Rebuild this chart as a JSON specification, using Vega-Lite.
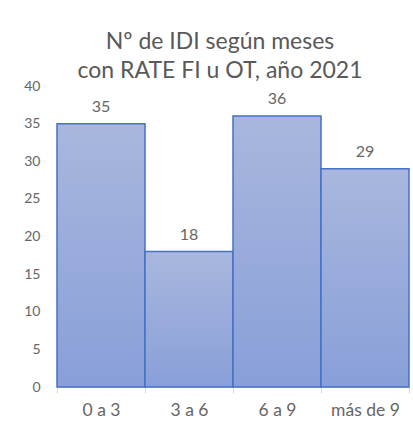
{
  "$schema": "https://vega.github.io/schema/vega-lite/v6.json",
  "width": 352,
  "height": 301,
  "autosize": {"type": "none"},
  "padding": {"left": 57, "top": 86, "right": 4, "bottom": 52},
  "background": "white",
  "title": {
    "text": ["Nº de IDI según meses", "con RATE FI u OT, año 2021"],
    "font": "Lato",
    "fontSize": 23,
    "fontWeight": "normal",
    "color": "#595959",
    "lineHeight": 29,
    "anchor": "middle",
    "dx": -13,
    "offset": -4
  },
  "data": {
    "values": [
      {"cat": "0 a 3", "n": 35},
      {"cat": "3 a 6", "n": 18},
      {"cat": "6 a 9", "n": 36},
      {"cat": "más de 9", "n": 29}
    ]
  },
  "encoding": {
    "x": {
      "field": "cat",
      "type": "nominal",
      "sort": null,
      "scale": {"paddingInner": 0, "paddingOuter": 0},
      "axis": {
        "title": null,
        "labelAngle": 0,
        "labelFont": "Lato",
        "labelFontSize": 17.5,
        "labelColor": "#666666",
        "labelPadding": 8,
        "domainColor": "#d9d9d9",
        "tickColor": "#d9d9d9",
        "tickBand": "extent",
        "tickSize": 6
      }
    },
    "y": {
      "field": "n",
      "type": "quantitative",
      "scale": {"domain": [0, 40]},
      "axis": {
        "title": null,
        "values": [0, 5, 10, 15, 20, 25, 30, 35, 40],
        "grid": false,
        "domain": false,
        "ticks": false,
        "labelFont": "Lato",
        "labelFontSize": 14,
        "labelColor": "#666666",
        "labelPadding": 17
      }
    }
  },
  "layer": [
    {
      "mark": {
        "type": "bar",
        "stroke": "#4472c4",
        "strokeWidth": 1.5,
        "color": {
          "gradient": "linear",
          "x1": 0, "y1": 0, "x2": 0, "y2": 1,
          "stops": [
            {"offset": 0, "color": "#a9b7de"},
            {"offset": 1, "color": "#889fd8"}
          ]
        }
      }
    },
    {
      "mark": {
        "type": "text",
        "baseline": "bottom",
        "dy": -9,
        "font": "Lato",
        "fontSize": 16,
        "color": "#666666"
      },
      "encoding": {"text": {"field": "n", "type": "quantitative"}}
    }
  ],
  "config": {"view": {"stroke": null}}
}
